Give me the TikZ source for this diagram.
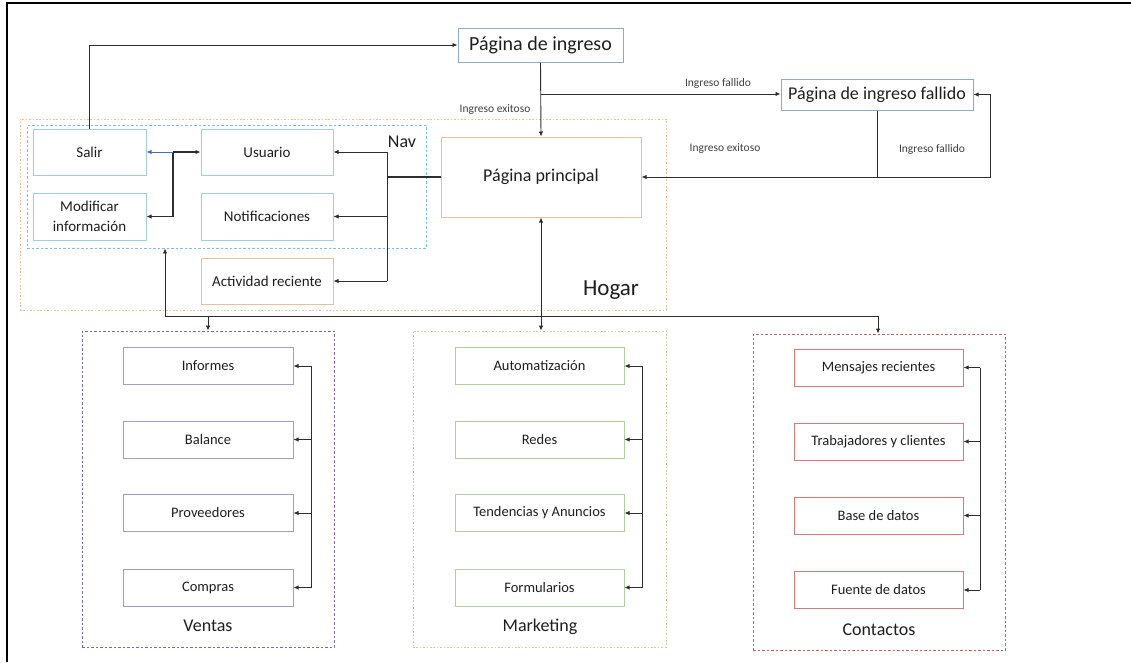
\documentclass[tikz,border=0pt]{standalone}
\usepackage{fontspec}
\setmainfont{Carlito}
\usetikzlibrary{arrows.meta,calc}
\definecolor{txt}{RGB}{30,30,30}
\definecolor{lineC}{RGB}{45,45,45}
\definecolor{loginC}{RGB}{145,168,198}
\definecolor{navBoxC}{RGB}{160,208,224}
\definecolor{navDashC}{RGB}{125,192,222}
\definecolor{orangeC}{RGB}{238,190,150}
\definecolor{ventDashC}{RGB}{125,105,165}
\definecolor{ventBoxC}{RGB}{170,152,202}
\definecolor{markDashC}{RGB}{216,198,158}
\definecolor{markBoxC}{RGB}{175,208,155}
\definecolor{contDashC}{RGB}{200,95,95}
\definecolor{contBoxC}{RGB}{216,120,120}
\definecolor{blueArr}{RGB}{70,110,190}
\tikzset{
  box/.style={draw, line width=1pt, inner sep=0pt, align=center, text=txt,
    font=\fontsize{15}{17}\selectfont},
  navbox/.style={box, draw=navBoxC, minimum width=132pt, minimum height=46pt},
  sidebox/.style={box, draw=navBoxC, minimum width=113pt, minimum height=46pt},
  subbox/.style={box, minimum width=170pt, minimum height=37pt, font=\fontsize{14.5}{17}\selectfont},
  frame/.style={draw, line width=0.9pt, inner sep=0pt},
  grplbl/.style={text=txt, font=\fontsize{18}{20}\selectfont, inner sep=0pt},
  elbl/.style={text=txt!85, font=\fontsize{11.5}{13}\selectfont, inner sep=0pt},
  conn/.style={draw=lineC, line width=0.9pt},
  arr/.style={conn, -{Latex[length=5pt,width=4.5pt]}},
  darr/.style={conn, {Latex[length=5pt,width=4.5pt]}-{Latex[length=5pt,width=4.5pt]}},
}
\begin{document}
\begin{tikzpicture}[x=1pt,y=-1pt]
\useasboundingbox (0,0) rectangle (1131,662);
\draw[line width=2.4pt, black] (7,662) -- (7,3) -- (1131,3);

% group frames
\node[frame, draw=orangeC, dash pattern=on 1.6pt off 1.8pt, minimum width=646pt, minimum height=191pt] (hogar) at (343,214.5) {};
\node[frame, draw=navDashC, dash pattern=on 2.5pt off 2pt, minimum width=399pt, minimum height=123pt] (nav) at (226.5,186.5) {};
\node[frame, draw=ventDashC, dash pattern=on 2.5pt off 2pt, minimum width=252pt, minimum height=316pt] (ventasF) at (208,489) {};
\node[frame, draw=markDashC, dash pattern=on 1.6pt off 1.8pt, minimum width=253pt, minimum height=316pt] (marketingF) at (539.5,489) {};
\node[frame, draw=contDashC, dash pattern=on 2.5pt off 2pt, minimum width=252pt, minimum height=316pt] (contactosF) at (879,492) {};

% group labels
\node[grplbl, font=\fontsize{23}{25}\selectfont] (hogarLbl) at (611,290) {Hogar};
\node[grplbl] (navLbl) at (402,142) {Nav};
\node[grplbl] (ventasLbl) at (208,626) {Ventas};
\node[grplbl] (marketingLbl) at (540,627) {Marketing};
\node[grplbl] (contactosLbl) at (879,630) {Contactos};

% top nodes
\node[box, draw=loginC, minimum width=165pt, minimum height=34pt, font=\fontsize{20}{22}\selectfont] (ingreso) at (540.5,45) {Página de ingreso};
\node[box, draw=loginC, minimum width=192pt, minimum height=31pt, font=\fontsize{18}{20}\selectfont] (fallido) at (877,94.5) {Página de ingreso fallido};
\node[box, draw=orangeC, minimum width=200pt, minimum height=80pt, font=\fontsize{18}{20}\selectfont] (principal) at (541,177) {Página principal};

% Nav nodes
\node[sidebox] (salir) at (89.5,152) {Salir};
\node[sidebox, minimum height=47pt, font=\fontsize{15}{20}\selectfont] (modificar) at (89.5,216.5) {Modificar\\información};
\node[navbox] (usuario) at (267,152) {Usuario};
\node[navbox, minimum height=47pt] (notif) at (267,216.5) {Notificaciones};
\node[navbox, draw=orangeC] (actividad) at (267,281) {Actividad reciente};

% Ventas
\node[subbox, draw=ventBoxC] (v1) at (208,366) {Informes};
\node[subbox, draw=ventBoxC] (v2) at (208,439.5) {Balance};
\node[subbox, draw=ventBoxC] (v3) at (208,513) {Proveedores};
\node[subbox, draw=ventBoxC] (v4) at (208,587.5) {Compras};
% Marketing
\node[subbox, draw=markBoxC, minimum width=169pt] (m1) at (539.5,366) {Automatización};
\node[subbox, draw=markBoxC, minimum width=169pt] (m2) at (539.5,439.5) {Redes};
\node[subbox, draw=markBoxC, minimum width=169pt] (m3) at (539.5,513) {Tendencias y Anuncios};
\node[subbox, draw=markBoxC, minimum width=169pt] (m4) at (539.5,587.5) {Formularios};
% Contactos
\node[subbox, draw=contBoxC, minimum width=169pt] (c1) at (878.5,367.5) {Mensajes recientes};
\node[subbox, draw=contBoxC, minimum width=169pt] (c2) at (878.5,441.5) {Trabajadores y clientes};
\node[subbox, draw=contBoxC, minimum width=169pt] (c3) at (878.5,515.5) {Base de datos};
\node[subbox, draw=contBoxC, minimum width=169pt] (c4) at (878.5,590) {Fuente de datos};

% edge labels
\node[elbl] (lblFail1) at (718,83) {Ingreso fallido};
\node[elbl] (lblOk1) at (495,110) {Ingreso exitoso};
\node[elbl] (lblOk2) at (725,149) {Ingreso exitoso};
\node[elbl] (lblFail2) at (932,149) {Ingreso fallido};

% login flow
\draw[arr] (salir.north) |- (ingreso.west);
\draw[arr] (ingreso.south) -- (principal.north);
\coordinate (split) at ($(ingreso.south)!0.425!(principal.north)$);
\draw[arr] (split) -- (split -| fallido.west);
\coordinate (failDown) at (fallido.south |- principal.east);
\draw[arr] (fallido.south) -- (failDown) -- (principal.east);
\coordinate (loopR) at (990,177);
\draw[arr] (failDown) -- (loopR) |- (fallido.east);

% Nav bus
\coordinate (navBus) at (387,177);
\draw[conn, line width=1.8pt] (principal.west) -- (navBus);
\draw[conn] (navBus |- usuario.east) -- (navBus |- actividad.east);
\draw[arr] (navBus |- usuario.east) -- (usuario.east);
\draw[arr] (navBus |- notif.east) -- (notif.east);
\draw[arr] (navBus |- actividad.east) -- (actividad.east);

% Salir / Usuario / Modificar
\coordinate (uBus) at (173,152);
\draw[conn, line width=1.8pt] (uBus) -- (uBus |- modificar.east);
\draw[arr, line width=1.6pt] (uBus) -- (usuario.west);
\draw[arr, line width=1.6pt] (uBus |- modificar.east) -- (modificar.east);
\draw[arr, draw=blueArr, line width=0.8pt] (uBus) -- (salir.east);

% bottom distribution line
\coordinate (jL) at (165,316);
\coordinate (jV) at (208,316);
\coordinate (jR) at (878,316);
\draw[conn] (jL) -- (jR);
\draw[arr] (jL) -- (jL |- nav.south);
\draw[arr] (jV) -- (jV |- ventasF.north);
\draw[arr] (jR) -- (jR |- contactosF.north);
\draw[darr] (principal.south) -- (principal.south |- marketingF.north);

% group buses
\coordinate (vBus) at (311,0);
\draw[conn] (vBus |- v1.east) -- (vBus |- v4.east);
\foreach \n in {v1,v2,v3,v4} \draw[arr] (vBus |- \n.east) -- (\n.east);
\coordinate (mBus) at (642,0);
\draw[conn] (mBus |- m1.east) -- (mBus |- m4.east);
\foreach \n in {m1,m2,m3,m4} \draw[arr] (mBus |- \n.east) -- (\n.east);
\coordinate (cBus) at (980,0);
\draw[conn] (cBus |- c1.east) -- (cBus |- c4.east);
\foreach \n in {c1,c2,c3,c4} \draw[arr] (cBus |- \n.east) -- (\n.east);
\end{tikzpicture}
\end{document}
